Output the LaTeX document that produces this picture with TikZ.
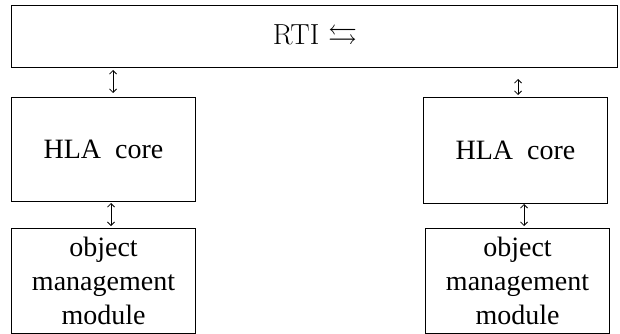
\documentclass[tikz,border=0pt]{standalone}
\usepackage{amssymb}
\usepackage{fontspec}
\newfontfamily\boxfont{Liberation Serif}
\usetikzlibrary{arrows.meta}
\begin{document}
\begin{tikzpicture}[x=1pt,y=-1pt,
  box/.style={draw,line width=1pt,inner sep=0pt,anchor=north west},
  lbl/.style={font=\boxfont\fontsize{28}{34}\selectfont,align=center},
  link/.style={line width=0.8pt,{Straight Barb[length=3.5pt,width=7pt]}-{Straight Barb[length=3.5pt,width=7pt]}}]
\useasboundingbox (0,0) rectangle (620,334);
\node[box,minimum width=606pt,minimum height=62pt] (rti) at (11,5) {};
\node at (315,37) {\fontsize{29}{34}\selectfont RTI $\leftrightarrows$};
\node[box,minimum width=184pt,minimum height=104pt] (h1) at (11,97) {};
\node[lbl] at (h1.center) {HLA\ \ core};
\node[box,minimum width=184pt,minimum height=106pt] (h2) at (423,97) {};
\node[lbl] at (h2.center) {HLA\ \ core};
\node[box,minimum width=184pt,minimum height=105pt] (o1) at (11,228) {};
\node[lbl] at (o1.center) {object\\management\\module};
\node[box,minimum width=184pt,minimum height=105pt] (o2) at (425,228) {};
\node[lbl] at (o2.center) {object\\management\\module};
\coordinate (a1) at (113,70); \coordinate (b1) at (113,93);
\draw[link] (a1) -- (b1);
\coordinate (a2) at (518,79); \coordinate (b2) at (518,95);
\draw[link] (a2) -- (b2);
\coordinate (c1) at (111,203); \coordinate (d1) at (111,226);
\draw[link] (c1) -- (d1);
\coordinate (c2) at (524,204); \coordinate (d2) at (524,226);
\draw[link] (c2) -- (d2);
\end{tikzpicture}
\end{document}
